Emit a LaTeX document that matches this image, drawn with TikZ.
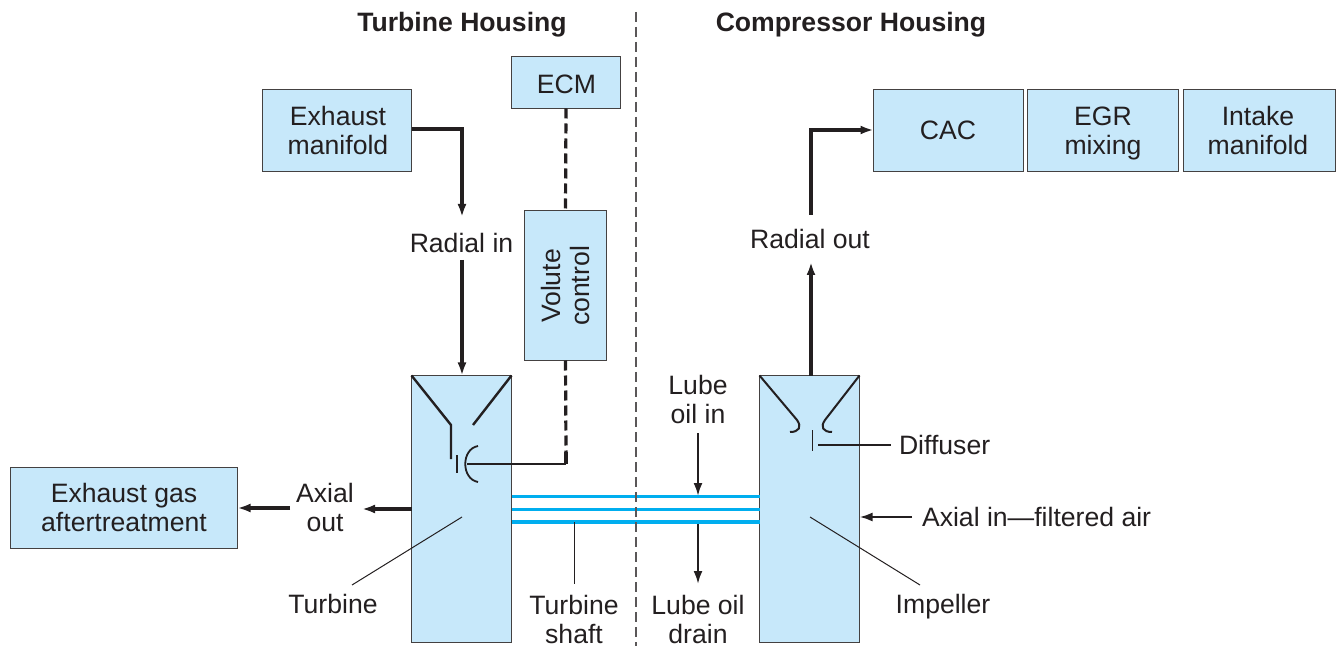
\documentclass[tikz,border=0pt]{standalone}
\usepackage{fontspec}
\setmainfont{Liberation Sans}
\usetikzlibrary{arrows.meta, positioning, calc}
\definecolor{biruBox}{RGB}{199,232,250}
\definecolor{hitamGaris}{RGB}{35,31,32}
\definecolor{biruShaft}{RGB}{0,174,239}

\begin{document}
\begin{tikzpicture}[
  x=0.5pt, y=-0.5pt,
  box/.style={draw=hitamGaris!85, line width=0.45pt, fill=biruBox, inner sep=0pt, outer sep=0pt, align=center, font=\fontsize{13.3}{14.5}\selectfont, text=hitamGaris, anchor=north west},
  lbl/.style={align=center, inner sep=0pt, outer sep=0pt, font=\fontsize{13.3}{14.5}\selectfont, text=hitamGaris},
  judul/.style={lbl, font=\fontsize{13.3}{14.5}\selectfont\bfseries},
  flow/.style={draw=hitamGaris, line width=1.6pt, -{Latex[length=6.5pt,width=4.5pt]}},
  flowT/.style={flow, line width=1.1pt},
  plain/.style={draw=hitamGaris, line width=1.2pt},
  sinyal/.style={plain, line width=1.6pt, dash pattern=on 5pt off 2.5pt},
  leader/.style={draw=hitamGaris, line width=0.5pt},
  shaft/.style={draw=biruShaft, line width=1.6pt},
]
  \useasboundingbox (0,0) rectangle (1337,646);

  % kotak atas dan kiri
  \node[box, minimum width=74.5pt, minimum height=41pt] at (262.5,89.5)  (manifold) {};
  \node[lbl] at (338,130) (manifoldtxt) {Exhaust\\manifold};
  \node[box, minimum width=54.5pt, minimum height=26pt] at (511.5,56.5)  (ecm) {};
  \node[lbl] at (566.5,84) (ecmtxt) {ECM};
  \node[box, minimum width=41pt,   minimum height=75pt] at (524.5,210.5) (volute) {};
  \node[lbl, rotate=90] at (565,286) (volutetxt) {Volute\\control};
  \node[box, minimum width=75pt,   minimum height=41pt] at (873.5,89.5)  (cac) {};
  \node[lbl] at (948,130) (cactxt) {CAC};
  \node[box, minimum width=75.5pt, minimum height=41pt] at (1027.5,89.5) (egr) {};
  \node[lbl] at (1103,133) (egrtxt) {EGR\\mixing};
  \node[box, minimum width=76pt,   minimum height=41pt] at (1183.5,89.5) (intake) {};
  \node[lbl] at (1258,130) (intaketxt) {Intake\\manifold};
  \node[box, minimum width=113.5pt,minimum height=40.5pt] at (10.5,467.5) (aftertreat) {};
  \node[lbl] at (124,507) (aftertxt) {Exhaust gas\\aftertreatment};

  % rumah turbin dan kompresor
  \node[box, minimum width=50pt, minimum height=133.5pt] at (411.5,375.5) (turbine) {};
  \node[box, minimum width=50pt, minimum height=133.5pt] at (759.5,375.5) (compressor) {};

  % judul dan label
  \node[judul] at (462,25)  (turbinehousing) {Turbine Housing};
  \node[judul] at (851,25)  (compressorhousing) {Compressor Housing};
  \node[lbl] at (461.5,243) (radialin) {Radial in};
  \node[lbl] at (810,239)   (radialout) {Radial out};
  \node[lbl] at (325,507)   (axialout) {Axial\\out};
  \node[lbl] at (698,399)   (lubein) {Lube\\oil in};
  \node[lbl] at (698,619)   (lubedrain) {Lube oil\\drain};
  \node[lbl] at (574,619)   (shafttxt) {Turbine\\shaft};
  \node[lbl] at (333,604)   (turbinetxt) {Turbine};
  \node[lbl] at (943,607)   (impellertxt) {Impeller};
  \node[lbl, anchor=west] at (899,445) (diffusertxt) {Diffuser};
  \node[lbl, anchor=west] at (922,517) (axialin) {Axial in—filtered air};

  % titik bantu
  \coordinate (radinA) at (462,217);
  \coordinate (radinB) at (462,260);
  \coordinate (radoutA) at (811,262);
  \coordinate (radoutB) at (811,215);
  \coordinate (bend) at (566,464);
  \coordinate (bendtop) at (566,452);
  \coordinate (cupleft) at (467,464);
  \coordinate (tvaneA) at (451,425);
  \coordinate (tvaneB) at (451,459);
  \coordinate (tvaneC) at (473,425);
  \coordinate (turbinecore) at (462,517);
  \coordinate (impellercore) at (810,517);
  \coordinate (shaftfoot) at (574.5,522);
  \coordinate (lubetop) at (698,433);
  \coordinate (lubemid) at (698,496);
  \coordinate (lubelow) at (698,522);

  % aliran utama
  \draw[flow] (manifold.east |- 0,129) -| (radinA);
  \draw[flow] (radinB) -- (turbine.north -| radinB);
  \draw[flow] (turbine.west |- 0,509) -- (362,509);
  \draw[flow] (290,508) -- (aftertreat.east |- 0,508);
  \draw[flow] (compressor.north -| radoutA) -- (radoutA);
  \draw[flow] (radoutB) |- (cac.west |- 0,130);
  \draw[flowT] (912,517) -- (compressor.east |- 0,517);
  \draw[flowT] (lubetop) -- (lubemid);
  \draw[flowT] (lubelow) -- (698,584);

  % sinyal kontrol
  \draw[sinyal] (ecm.south) -- (volute.north);
  \draw[sinyal] (volute.south) -- (bendtop);
  \draw[plain, line width=1.6pt] (bendtop) -- (bend);
  \draw[leader, line width=0.8pt] (bend) -- (cupleft);

  % bagian dalam turbin
  \draw[plain] (turbine.north west) -- (tvaneA) -- (tvaneB);
  \draw[plain] (turbine.north east) -- (tvaneC);
  \draw[plain, line width=0.8pt] (457,455) -- (457,473);
  \draw[plain, line width=0.9pt] (478,446) .. controls (461,449) and (461,479) .. (478,482);

  % bagian dalam kompresor
  \draw[plain, line width=1pt] (compressor.north west) -- (797,420) .. controls (802,427) and (799,432) .. (790,432);
  \draw[plain, line width=1pt] (compressor.north east) -- (825,420) .. controls (820,427) and (823,432) .. (832,432);
  \draw[plain, line width=0.8pt] (812.5,430) -- (812.5,451);

  % poros
  \foreach \y in {496.5,509.5,522} {
    \draw[shaft] (turbine.east |- 0,\y) -- (compressor.west |- 0,\y);
  }

  % garis penunjuk
  \draw[leader, line width=0.6pt] (818,445) -- (891,445);
  \draw[leader] (turbinecore) -- (352,585);
  \draw[leader] (impellercore) -- (920,585);
  \draw[leader] (shaftfoot) -- (574.5,584);

  % garis pemisah
  \draw[draw=hitamGaris!75, line width=0.6pt, dash pattern=on 5pt off 2.5pt] (636,12) -- (636,646);
\end{tikzpicture}
\end{document}
